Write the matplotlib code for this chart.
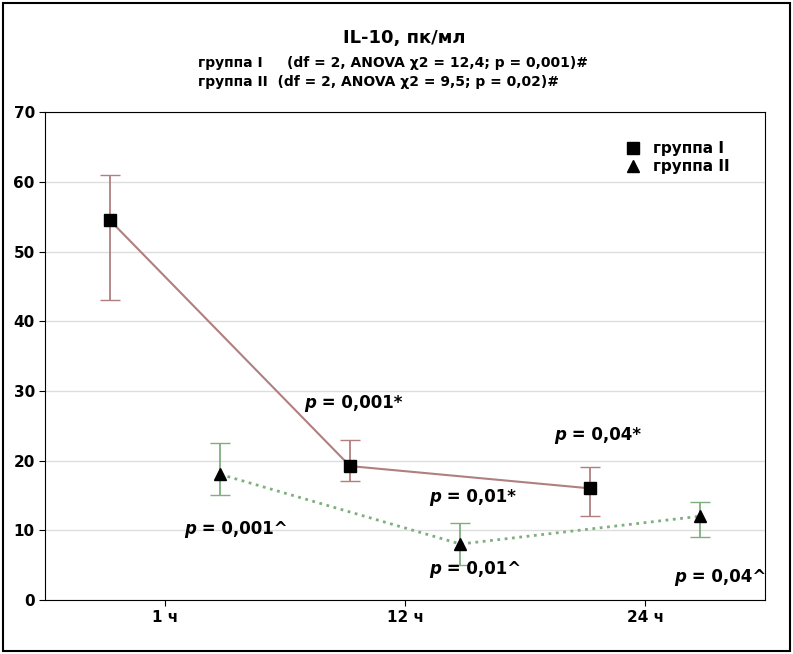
import matplotlib.pyplot as plt
import numpy as np

categories = ["1 ч", "12 ч", "24 ч"]
g1_mean = [54.5, 19.2, 16.0]
g1_low = [43.0, 17.0, 12.0]
g1_high = [61.0, 23.0, 19.0]
g2_mean = [18.0, 8.0, 12.0]
g2_low = [15.0, 5.0, 9.0]
g2_high = [22.5, 11.0, 14.0]

fig = plt.figure(figsize=(7.93, 6.54), dpi=100)
ax = fig.add_axes([0.057, 0.083, 0.908, 0.745])

x = np.arange(3)
off = 0.23
c1 = "#b07f7f"
c2 = "#7fae7f"
e1 = [np.subtract(g1_mean, g1_low), np.subtract(g1_high, g1_mean)]
e2 = [np.subtract(g2_mean, g2_low), np.subtract(g2_high, g2_mean)]
ax.errorbar(x - off, g1_mean, yerr=e1, fmt="none", ecolor=c1, capsize=7, lw=1.3)
ax.errorbar(x + off, g2_mean, yerr=e2, fmt="none", ecolor=c2, capsize=7, lw=1.3)
ax.plot(x - off, g1_mean, color=c1, lw=1.5)
ax.plot(x + off, g2_mean, color=c2, lw=2, ls=":")
ax.plot(x - off, g1_mean, "s", color="black", ms=8, label="группа I")
ax.plot(x + off, g2_mean, "^", color="black", ms=8, label="группа II")

ax.set_xlim(-0.5, 2.5)
ax.set_ylim(0, 70)
ax.set_xticks(x)
ax.set_xticklabels(categories, fontweight="bold", fontsize=11)
ax.set_yticks(range(0, 71, 10))
ax.tick_params(axis="y", labelsize=11)
for t in ax.get_yticklabels():
    t.set_fontweight("bold")
ax.grid(axis="y", color="#dddddd", lw=1)
ax.tick_params(length=4)
ax.legend(loc="upper right", bbox_to_anchor=(0.97, 0.97), frameon=False,
          prop={"weight": "bold", "size": 11}, handletextpad=0.3, labelspacing=0.2)

def ptxt(xx, yy, val, mark):
    t = ax.text(xx, yy, "p", style="italic", fontweight="bold",
                fontsize=12, ha="left", va="center")
    ax.annotate(" = " + val + mark, xy=(1, 0.5), xycoords=t, fontweight="bold",
                fontsize=12, ha="left", va="center")

ptxt(0.58, 28.3, "0,001", "*")
ptxt(1.62, 23.6, "0,04", "*")
ptxt(1.10, 14.8, "0,01", "*")
ptxt(0.08, 10.2, "0,001", "^")
ptxt(1.10, 4.4, "0,01", "^")
ptxt(2.12, 3.2, "0,04", "^")

fig.text(0.51, 0.935, "IL-10, пк/мл", ha="center", fontweight="bold", fontsize=13)
fig.text(0.25, 0.898, "группа I     (df = 2, ANOVA χ2 = 12,4; p = 0,001)#", fontweight="bold", fontsize=10)
fig.text(0.25, 0.868, "группа II  (df = 2, ANOVA χ2 = 9,5; p = 0,02)#", fontweight="bold", fontsize=10)

fig.patches.append(plt.Rectangle((0.004, 0.004), 0.992, 0.992, transform=fig.transFigure,
                                 fill=False, ec="black", lw=1.5))
fig.savefig("out.png", dpi=100)
